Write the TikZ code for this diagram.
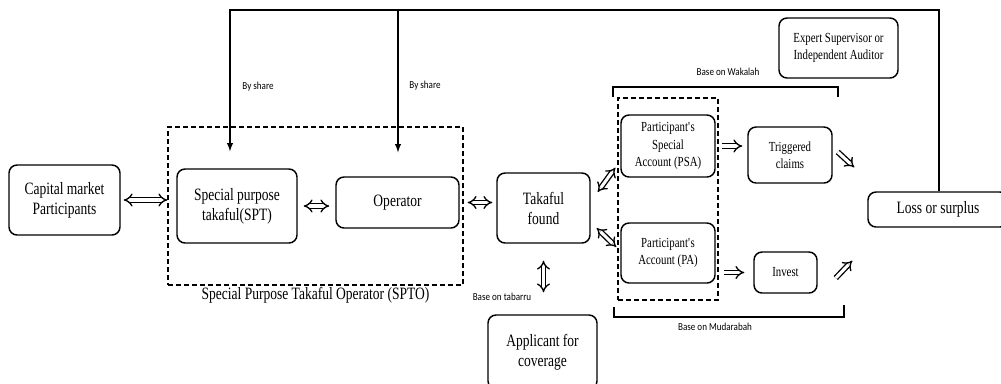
\documentclass[tikz,border=0pt]{standalone}
\usepackage{fontspec}
\setmainfont{Liberation Serif}[FakeStretch=0.78]
\newfontfamily\lblfont{Carlito}[FakeStretch=0.85]
\usetikzlibrary{arrows.meta,calc}

\begin{document}
\begin{tikzpicture}[x=0.75pt,y=-0.75pt,
  box/.style={draw, rounded corners=6pt, line width=1.1pt, align=center, inner sep=1pt},
  big/.style={font=\fontsize{13}{15}\selectfont},
  small/.style={font=\fontsize{10.4}{13}\selectfont},
  lbl/.style={font=\lblfont\fontsize{8}{9}\selectfont},
  dashbox/.style={draw, line width=1.1pt, dash pattern=on 3.5pt off 2.5pt},
  dbl/.style={double, double distance=2.3pt, line width=1pt, {Implies}-{Implies}},
  sgl/.style={double, double distance=2.3pt, line width=1pt, -{Implies}},
  fb/.style={line width=1.1pt, ->, >=latex}]
\useasboundingbox (0,0) rectangle (1001,383);
% boxes
\node [box,big,minimum width=83.25pt,minimum height=52.5pt] (cap) at (64.5,200) {Capital market\\Participants};
\node [dashbox,minimum width=221.25pt,minimum height=118.5pt,
  label={[big,inner sep=1pt]below:Special Purpose Takaful Operator (SPTO)}] (spto) at (315.5,206) {};
\node [box,big,minimum width=90pt,minimum height=55.5pt] (spt) at (237,206) {Special purpose\\takaful(SPT)};
\node [box,big,minimum width=92.25pt,minimum height=38.25pt] (op) at (397.5,202.5) {Operator};
\node [box,big,minimum width=69.75pt,minimum height=52.5pt] (tak) at (543.5,208) {Takaful\\found};
\node [box,big,minimum width=81.75pt,minimum height=55.5pt] (app) at (542.5,352) {Applicant for\\coverage};
\node [dashbox,minimum width=75pt,minimum height=151.5pt] (acc) at (668,199) {};
\node [box,small,minimum width=70.5pt,minimum height=46.5pt] (psa) at (668,146) {Participant\textquotesingle s\\Special\\Account (PSA)};
\node [box,small,minimum width=70.5pt,minimum height=45pt] (pa) at (668,253) {Participant\textquotesingle s\\Account (PA)};
\node [box,small,minimum width=63pt,minimum height=42pt] (trig) at (790,155) {Triggered\\claims};
\node [box,small,minimum width=47.25pt,minimum height=30.75pt] (inv) at (785.5,272.5) {Invest};
\node [box,small,minimum width=89.25pt,minimum height=45pt] (exp) at (838.5,48) {Expert Supervisor or\\Independent Auditor};
\node [box,big,minimum width=105pt,minimum height=26.25pt] (loss) at (938,209.5) {Loss or surplus};
% brackets
\draw [line width=1.1pt] (613,97) -- (613,87) -- (838,87) -- (838,97);
\draw [line width=1.1pt] (614,307) -- (614,317) -- (844,317) -- (844,305);
\node [lbl] (wak) at (728,72) {Base on Wakalah};
\node [lbl] (mud) at (715,327) {Base on Mudarabah};
\node [lbl] (tab) at (502,297) {Base on tabarru};
% feedback
\coordinate (tr) at (939,10);
\coordinate (tl) at (230,10);
\coordinate (tm) at (398,10);
\draw [fb, shorten >=12.75pt] (loss.north -| tr) -- (tr) -- (tl) -- (tl |- spt.north);
\draw [fb, shorten >=18pt] (tm) -- (tm |- op.north);
\node [lbl] (sh1) at (258,87) {By share};
\node [lbl] (sh2) at (425,86) {By share};
% arrows
\draw [dbl, shorten <=2.25pt] (cap.east) -- (cap.east -| spto.west);
\draw [dbl, shorten <=4.5pt, shorten >=4.5pt] (spt.east) -- (spt.east -| op.west);
\draw [dbl, shorten <=6pt, shorten >=3pt] (op.east) -- (op.east -| tak.west);
\draw [dbl, shorten <=12.75pt, shorten >=16.5pt] (tak.south) -- (tak.south |- app.north);
\draw [dbl] ($(tak.east)+(7,-16)$) -- ($(psa.south west)+(-5,-10)$);
\draw [dbl] ($(tak.east)+(6,20)$) -- ($(pa.west)+(-4,-6)$);
\draw [sgl, shorten <=4.5pt, shorten >=3.75pt] (psa.east) -- (psa.east -| trig.west);
\draw [sgl, shorten <=6pt, shorten >=6.75pt] (pa.east |- inv.west) -- (inv.west);
\draw [sgl] ($(trig.east)+(5,-3)$) -- ($(loss.north west)+(-13,-24)$);
\draw [sgl] ($(inv.east)+(18,5.5)$) -- ($(loss.south west)+(-15,33)$);
\end{tikzpicture}
\end{document}
